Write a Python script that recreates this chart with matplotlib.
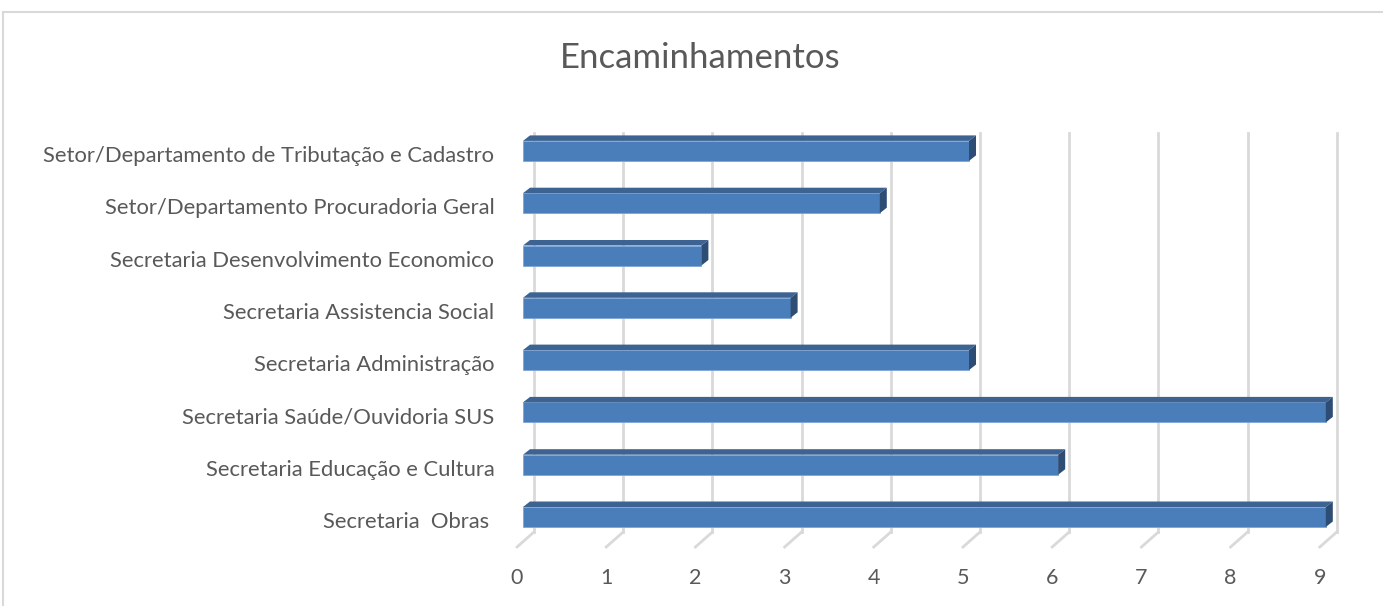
import matplotlib.pyplot as plt
from matplotlib.patches import Polygon
from matplotlib.lines import Line2D

categories = [
    "Secretaria  Obras ",
    "Secretaria Educação e Cultura",
    "Secretaria Saúde/Ouvidoria SUS",
    "Secretaria Administração",
    "Secretaria Assistencia Social",
    "Secretaria Desenvolvimento Economico",
    "Setor/Departamento Procuradoria Geral",
    "Setor/Departamento de Tributação e Cadastro",
]
counts = [9, 6, 9, 5, 3, 2, 4, 5]
ticks = list(range(10))

FRONT = "#4a7ebb"
TOP = "#3d6392"
SIDE = "#2e4d74"
GRID = "#d9d9d9"
TEXT = "#595959"

plt.rcParams['font.family'] = ['Lato', 'DejaVu Sans']

W, H = 1383, 606
fig = plt.figure(figsize=(W / 100, H / 100), dpi=100)

# pixel layout of the plot (value 0 front at x=523, 89.2 px per unit,
# category 0 centre at y=517, 52.3 px per category)
x0, sx = 523, 89.2
y0, sy = 517, 52.3
left_px, right_px, top_px, bot_px = 500, 1370, 110, 606
ax = fig.add_axes([left_px / W, 1 - bot_px / H, (right_px - left_px) / W, (bot_px - top_px) / H])
ax.set_xlim((left_px - x0) / sx, (right_px - x0) / sx)
ax.set_ylim((y0 - bot_px) / sy, (y0 - top_px) / sy)
ax.axis("off")

# 3D depth offsets
bar_h = 20 / sy
bdx, bdy = 7 / sx, 5.5 / sy
back_dx = 11 / sx
front_dx = -6 / sx
grid_top = (y0 - 133) / sy
grid_back = (y0 - 532) / sy
grid_front = (y0 - 547) / sy

for t in ticks:
    ax.add_line(Line2D([t + back_dx, t + back_dx], [grid_back, grid_top], color=GRID, lw=2, zorder=1))
    ax.add_line(Line2D([t + front_dx, t + back_dx], [grid_front, grid_back], color=GRID, lw=2, zorder=1))
    ax.text(t + front_dx, (y0 - 578) / sy, str(t), ha="center", va="center",
            fontsize=15.5, color=TEXT)

ys = list(range(len(categories)))
ax.barh(ys, counts, height=bar_h, color=FRONT, edgecolor="#7fa6d6", linewidth=0.6, zorder=3)
for y, v in zip(ys, counts):
    top = y + bar_h / 2
    bot = y - bar_h / 2
    ax.add_patch(Polygon([(0, top), (v, top), (v + bdx, top + bdy), (bdx, top + bdy)],
                         closed=True, facecolor=TOP, edgecolor="none", zorder=3))
    ax.add_patch(Polygon([(v, bot), (v + bdx, bot + bdy), (v + bdx, top + bdy), (v, top)],
                         closed=True, facecolor=SIDE, edgecolor="none", zorder=3))
    ax.text(-0.32, y - 0.1, categories[y], ha="right", va="center", fontsize=15.8, color=TEXT)

fig.text(700 / W, 1 - 58 / H, "Encaminhamentos", ha="center", va="center", fontsize=25, color=TEXT)

# chart frame (top and left edges visible)
fig.add_artist(Line2D([3 / W, 1], [1 - 12 / H, 1 - 12 / H], color="#d9d9d9", lw=1.5))
fig.add_artist(Line2D([3 / W, 3 / W], [0, 1 - 12 / H], color="#d9d9d9", lw=1.5))

fig.savefig("out.png", dpi=100)
